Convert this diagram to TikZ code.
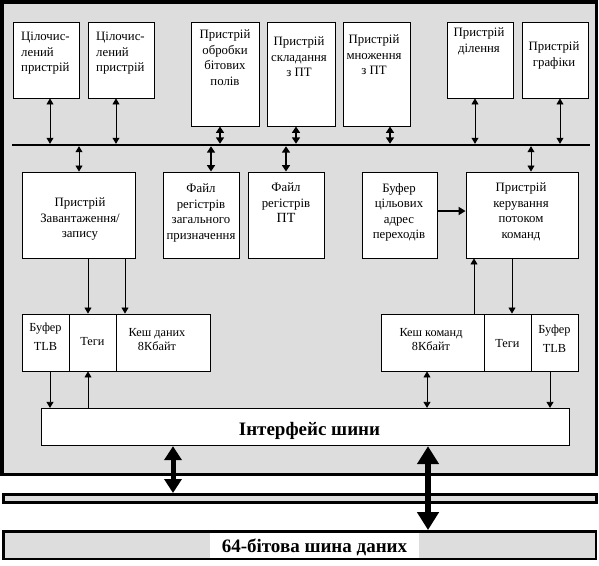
\documentclass[tikz,border=0pt]{standalone}
\usepackage{fontspec}
\setmainfont{Liberation Serif}
\usetikzlibrary{arrows.meta}
\definecolor{bg}{RGB}{221,221,221}
\begin{document}
\begin{tikzpicture}[x=1pt,y=-1pt,
  box/.style={draw, fill=white, line width=0.9pt, inner sep=0pt},
  lbl/.style={font=\fontsize{12.8}{15.5}\selectfont, align=center, inner sep=0pt, anchor=north},
  sml/.style={font=\fontsize{12.3}{14}\selectfont, align=center, inner sep=0pt, anchor=north},
  bigtxt/.style={font=\bfseries\fontsize{19}{21}\selectfont, inner sep=0pt, anchor=base},
  thinarr/.style={line width=0.8pt, -{Triangle[length=6pt,width=7pt]}},
  thindarr/.style={line width=0.8pt, {Triangle[length=6pt,width=7pt]}-{Triangle[length=6pt,width=7pt]}},
  thickdarr/.style={line width=2pt, {Triangle[length=6.5pt,width=8pt]}-{Triangle[length=6.5pt,width=8pt]}},
  thickarr/.style={line width=2.2pt, -{Triangle[length=7pt,width=8pt]}},
  bigA/.style={line width=5pt, {Triangle[length=14pt,width=17pt]}-{Triangle[length=14pt,width=17pt]}},
  bigB/.style={line width=6.5pt, {Triangle[length=18pt,width=21pt]}-{Triangle[length=18pt,width=21pt]}},
  busline/.style={line width=2.5pt},
  barbox/.style={draw, fill=bg, inner sep=0pt},
]
\useasboundingbox (0,0) rectangle (599,565);
% outer frame
\draw[line width=3.5pt, fill=bg] (2,2) rectangle (596.5,474.3);
% system bars
\node[barbox, line width=3pt, minimum width=592.5pt, minimum height=8pt] (bar1) at (299.75,498.5) {};
\node[barbox, line width=2.5pt, minimum width=592.5pt, minimum height=27.7pt] (bar2) at (299.75,545.15) {};
\node[fill=white, inner sep=0pt, minimum width=209pt, minimum height=25pt] (dbw) at (314.5,545.2) {};
\node[bigtxt] (dbt) at (314.5,552.7) {64-бітова шина даних};

% internal bus
\coordinate (busL) at (12,145);
\coordinate (busR) at (590,145);
\draw[busline] (busL) -- (busR);

% top units
\node[box, minimum width=66pt, minimum height=76pt] (b1) at (46,60) {};
\node[box, minimum width=66pt, minimum height=76pt] (b2) at (121,60) {};
\node[box, minimum width=68pt, minimum height=104pt] (b3) at (225,74) {};
\node[box, minimum width=68pt, minimum height=104pt] (b4) at (301,74) {};
\node[box, minimum width=67pt, minimum height=104pt] (b5) at (376.5,74) {};
\node[box, minimum width=66pt, minimum height=76pt] (b6) at (480,60) {};
\node[box, minimum width=66pt, minimum height=76pt] (b7) at (555,60) {};
\node[lbl, anchor=north west, align=left] (t1) at (21,32) {Цілочис-\\лений\\пристрій};
\node[lbl, anchor=north west, align=left] (t2) at (96,32) {Цілочис-\\лений\\пристрій};
\node[lbl] (t3) at (225,30) {Пристрій\\обробки\\бітових\\полів};
\node[lbl] (t4) at (299,37) {Пристрій\\складання\\з ПТ};
\node[lbl] (t5) at (374,35) {Пристрій\\множення\\з ПТ};
\node[lbl] (t6) at (479,28) {Пристрій\\ділення};
\node[lbl] (t7) at (554,42) {Пристрій\\графіки};

% second row
\node[box, minimum width=113pt, minimum height=86pt] (r1) at (78.5,215) {};
\node[box, minimum width=76pt, minimum height=86pt] (r2) at (201,215) {};
\node[box, minimum width=76pt, minimum height=86pt] (r3) at (286,215) {};
\node[box, minimum width=75pt, minimum height=86pt] (r4) at (399.5,215) {};
\node[box, minimum width=112pt, minimum height=86pt] (r5) at (522,215) {};
\node[lbl] (s1) at (80,198) {Пристрій\\Завантаження/\\запису};
\node[lbl] (s2) at (201,184) {Файл\\регістрів\\загального\\призначення};
\node[lbl] (s3) at (286,183) {Файл\\регістрів\\{\fontsize{14}{15.5}\selectfont ПТ}};
\node[lbl] (s4) at (399,183) {Буфер\\цільових\\адрес\\переходів};
\node[lbl] (s5) at (521,183) {Пристрій\\керування\\потоком\\команд};

% caches
\node[box, minimum width=47pt, minimum height=57pt] (tlb1) at (45.5,342.5) {};
\node[box, minimum width=47pt, minimum height=57pt] (tag1) at (92.5,342.5) {};
\node[box, minimum width=94pt, minimum height=57pt] (dc) at (163,342.5) {};
\node[box, minimum width=103pt, minimum height=57pt] (ic) at (432.5,342.5) {};
\node[box, minimum width=47pt, minimum height=57pt] (tag2) at (507.5,342.5) {};
\node[box, minimum width=47pt, minimum height=57pt] (tlb2) at (554.5,342.5) {};
\node[sml, font=\fontsize{12.3}{19}\selectfont] (u1) at (45.5,323) {Буфер\\TLB};
\node[sml] (u2) at (92.5,337) {Теги};
\node[sml] (u3) at (157,328) {Кеш даних\\8Кбайт};
\node[sml] (u4) at (431,328) {Кеш команд\\8Кбайт};
\node[sml] (u5) at (507.5,339) {Теги};
\node[sml, font=\fontsize{12.3}{19}\selectfont] (u6) at (554.5,325) {Буфер\\TLB};

% bus interface
\node[box, minimum width=528pt, minimum height=37.4pt] (bi) at (305.3,427) {};
\node[bigtxt] (bit) at (309.5,435) {Інтерфейс шини};

% arrows top units <-> bus
\draw[thindarr, shorten >=1.2pt] (b1.south -| 50,0) -- (busL -| 50,0);
\draw[thindarr, shorten >=1.2pt] (b2.south -| 116,0) -- (busL -| 116,0);
\draw[thickdarr, shorten >=1.2pt] (b3.south -| 220,0) -- (busL -| 220,0);
\draw[thickdarr, shorten >=1.2pt] (b4.south -| 296,0) -- (busL -| 296,0);
\draw[thickdarr, shorten >=1.2pt] (b5.south -| 390,0) -- (busL -| 390,0);
\draw[thindarr, shorten >=1.2pt] (b6.south -| 475,0) -- (busL -| 475,0);
\draw[thindarr, shorten >=1.2pt] (b7.south -| 560,0) -- (busL -| 560,0);

% bus <-> second row
\draw[thindarr, shorten <=1.2pt] (busL -| 79,0) -- (r1.north -| 79,0);
\draw[thickdarr, shorten <=1.2pt] (busL -| 211,0) -- (r2.north -| 211,0);
\draw[thickdarr, shorten <=1.2pt] (busL -| 286,0) -- (r3.north -| 286,0);
\draw[thindarr, shorten <=1.2pt] (busL -| 531,0) -- (r5.north -| 531,0);

% BTB -> fetch control
\draw[thickarr] (r4.east |- 0,211) -- (r5.west |- 0,211);

% load/store -> data cache
\draw[thinarr] (r1.south -| 88,0) -- (tag1.north -| 88,0);
\draw[thinarr] (r1.south -| 125,0) -- (dc.north -| 125,0);

% fetch control <-> instruction cache
\draw[thinarr] (ic.north -| 474,0) -- (r5.south -| 474,0);
\draw[thinarr] (r5.south -| 512,0) -- (tag2.north -| 512,0);

% caches <-> bus interface
\draw[thinarr] (tlb1.south -| 50,0) -- (bi.north -| 50,0);
\draw[thinarr] (bi.north -| 88,0) -- (tag1.south -| 88,0);
\draw[thindarr] (ic.south -| 427,0) -- (bi.north -| 427,0);
\draw[thinarr] (tlb2.south -| 550,0) -- (bi.north -| 550,0);

% bus interface <-> system bars
\draw[bigA] (bi.south -| 173,0) -- (bar1.north -| 173,0);
\draw[bigB] (bi.south -| 428,0) -- (bar2.north -| 428,0);
\end{tikzpicture}
\end{document}
